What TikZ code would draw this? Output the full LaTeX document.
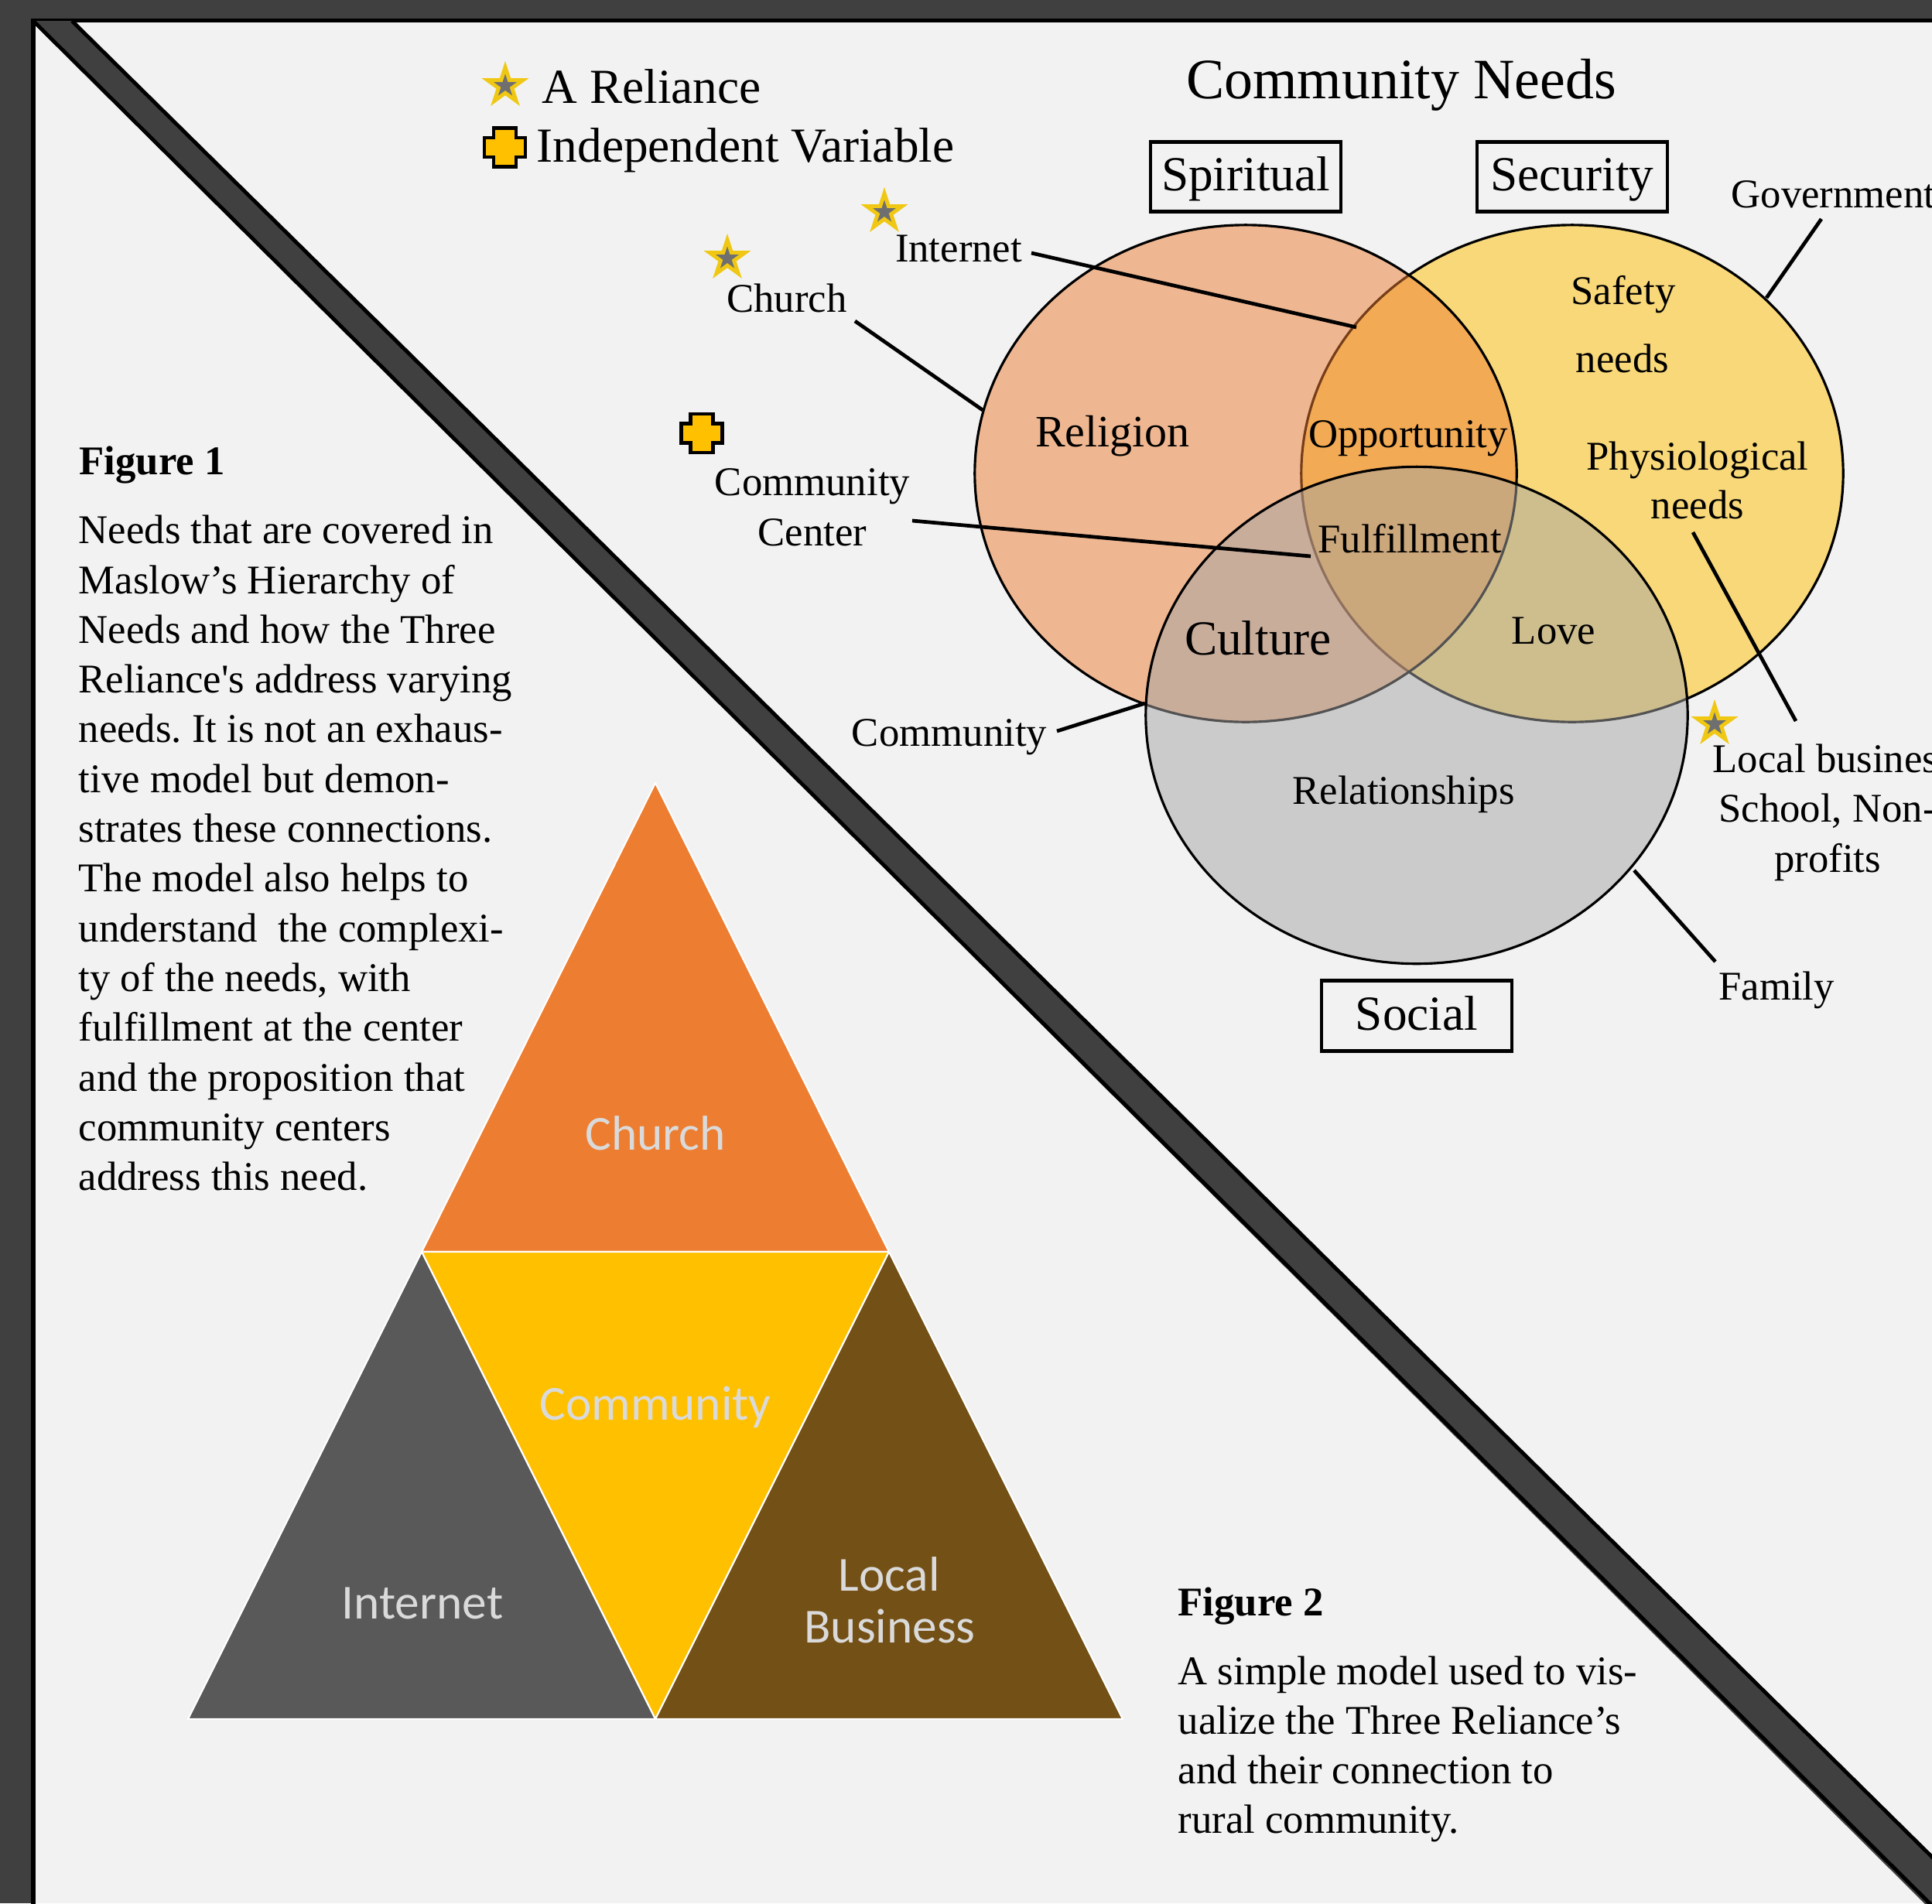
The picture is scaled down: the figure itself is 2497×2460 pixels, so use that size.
\documentclass[tikz,border=0pt]{standalone}
\usepackage{fontspec}
\setmainfont{Liberation Serif}
\newfontfamily\calibri{Carlito}
\usetikzlibrary{shapes.geometric}
\frenchspacing
\definecolor{bg}{HTML}{F2F2F2}
\definecolor{framegray}{HTML}{404040}
\definecolor{relyellow}{HTML}{F0C814}
\definecolor{stargray}{HTML}{6F6F6F}
\definecolor{ivyellow}{HTML}{FFC000}
\definecolor{vorange}{HTML}{ED7D31}
\definecolor{vgold}{HTML}{FFC000}
\definecolor{vgray}{HTML}{A5A5A5}
\definecolor{tchurch}{HTML}{ED7D31}
\definecolor{tcomm}{HTML}{FFC000}
\definecolor{tnet}{HTML}{595959}
\definecolor{tbiz}{HTML}{735016}
\definecolor{tlabel}{HTML}{DADADA}
\begin{document}
\frenchspacing
\begin{tikzpicture}[x=0.01cm,y=-0.01cm,
  txt/.style={inner sep=0pt, anchor=base, font=\fontsize{15}{18}\selectfont},
  conn/.style={line width=1.35pt},
  venn/.style={ellipse, minimum width=7cm, minimum height=6.42cm, inner sep=0pt, draw=black, line width=0.9pt, fill opacity=0.5},
  catbox/.style={draw=black, line width=1.3pt, minimum width=2.455cm, minimum height=0.905cm, inner sep=0pt, font=\fontsize{18}{20}\selectfont, text height=14pt, text depth=3.5pt},
  relstar/.style={star, star points=5, star point ratio=2.618, inner sep=0pt, minimum size=0.64cm, fill=relyellow},
  relcore/.style={star, star points=5, star point ratio=2.618, inner sep=0pt, minimum size=0.31cm, fill=stargray},
  tri/.style={draw=white, line width=0.6pt, line join=round},
  trilbl/.style={inner sep=0pt, anchor=base, font=\calibri\fontsize{18}{20}\selectfont, text=tlabel},
  ivcross/.pic={\draw[fill=ivyellow, line width=1.4pt, line join=miter]
     (-14.5,-25) -- (14.5,-25) -- (14.5,-12.5) -- (26.5,-12.5) -- (26.5,12.5) -- (14.5,12.5)
     -- (14.5,25) -- (-14.5,25) -- (-14.5,12.5) -- (-26.5,12.5) -- (-26.5,-12.5) -- (-14.5,-12.5) -- cycle;}
]
\useasboundingbox (0,0) rectangle (2497,2460);
\fill[bg] (0,0) rectangle (2497,2460);
% frame
\fill[framegray] (0,0) rectangle (2497,26);
\fill[framegray] (0,0) rectangle (43,2460);
\draw[line width=1.6pt] (43,2470) -- (43,26.5) -- (2510,26.5);
% diagonal band
\fill[framegray] (43,27) -- (93,27) -- (2497,2400) -- (2497,2470) -- cycle;
\draw[line width=1.4pt] (93,27) -- (2510,2413);
\draw[line width=1.4pt] (43,27) -- (2510,2476);

% legend
\node[relstar] (lstar) at (653,111) {};
\node[relcore] at (lstar) {};
\node[inner sep=0pt, anchor=base west, font=\fontsize{18}{20}\selectfont] (lrel) at (700,133) {A Reliance};
\pic at (652.5,190.5) {ivcross};
\node[inner sep=0pt, anchor=base west, font=\fontsize{18}{20}\selectfont] (lind) at (693,209) {Independent Variable};

% title and category boxes
\node[inner sep=0pt, anchor=base, font=\fontsize{21}{24}\selectfont] (title) at (1811,127) {Community Needs};
\node[catbox] (bspirit) at (1610,228.5) {Spiritual};
\node[catbox] (bsecur) at (2032,228.5) {Security};
\node[catbox] (bsocial) at (1831,1313) {Social};

% Venn
\node[venn, fill=vgold] (eSecur) at (2032,612) {};
\node[venn, fill=vorange] (eSpirit) at (1610,612) {};
\node[venn, fill=vgray] (eSocial) at (1831,924.5) {};

\node[txt, font=\fontsize{16.5}{18}\selectfont] (religion) at (1438,577) {Religion};
\node[txt] (opport) at (1820,578) {Opportunity};
\node[txt] (safety) at (2098,393) {Safety};
\node[txt] (safety2) at (2097,481) {needs};
\node[txt] (physio) at (2194,607) {Physiological};
\node[txt] (physio2) at (2194,670) {needs};
\node[txt] (fulfil) at (1822,714) {Fulfillment};
\node[txt, font=\fontsize{18}{20}\selectfont] (culture) at (1626,846) {Culture};
\node[txt] (love) at (2008,832) {Love};
\node[txt] (relat) at (1814,1039) {Relationships};

% external labels
\node[relstar] (schurch) at (940,334) {};
\node[relcore] at (schurch) {};
\node[txt] (church) at (1017,403) {Church};
\node[relstar] (snet) at (1143,274) {};
\node[relcore] at (snet) {};
\node[txt] (internet) at (1239,338) {Internet};
\pic at (907,560) {ivcross};
\node[txt] (cc1) at (1050,640) {Community};
\node[txt] (cc2) at (1050,705) {Center};
\node[txt] (commlbl) at (1227,964) {Community};
\node[txt, anchor=base west] (gov) at (2237,268) {Government};
\node[relstar] (sbiz) at (2216,936) {};
\node[relcore] at (sbiz) {};
\node[txt, anchor=base west] (biz1) at (2213,998) {Local business,};
\node[txt] (biz2) at (2362,1062) {School, Non-};
\node[txt] (biz3) at (2362,1127) {profits};
\node[txt] (family) at (2296,1292) {Family};

% connectors
\coordinate (chA) at (1105,415);  \coordinate (chB) at (1270,530);
\coordinate (inA) at (1333,327);  \coordinate (inB) at (1753,423);
\coordinate (ccA) at (1179,673);  \coordinate (ccB) at (1694,719);
\coordinate (coA) at (1366,945);  \coordinate (coB) at (1480,909);
\coordinate (goA) at (2354,283);  \coordinate (goB) at (2283,385);
\coordinate (phA) at (2188,688);  \coordinate (phB) at (2321,932);
\coordinate (faA) at (2112,1125); \coordinate (faB) at (2217,1243);
\draw[conn] (chA) -- (chB);
\draw[conn] (inA) -- (inB);
\draw[conn] (ccA) -- (ccB);
\draw[conn] (coA) -- (coB);
\draw[conn] (goA) -- (goB);
\draw[conn] (phA) -- (phB);
\draw[conn] (faA) -- (faB);

% Figure 1 text
\node[inner sep=0pt, anchor=base west, font=\bfseries\fontsize{15}{18}\selectfont] (fig1) at (102,613) {Figure 1};
\foreach \t [count=\i from 0] in {Needs that are covered in, Maslow’s Hierarchy of, Needs and how the Three,
  Reliance\textquotesingle s address varying, needs. It is not an exhaus-, tive model but demon-,
  strates these connections., The model also helps to, understand\ \ the complexi-,
  {ty of the needs, with}, fulfillment at the center, and the proposition that,
  community centers, address this need.}
  \node[txt, anchor=base west] (fa\i) at (101,{702.7+64.3*\i}) {\t};

% Figure 2 text
\node[inner sep=0pt, anchor=base west, font=\bfseries\fontsize{15}{18}\selectfont] (fig2) at (1522,2088) {Figure 2};
\foreach \t [count=\i from 0] in {A simple model used to vis-, ualize the Three Reliance’s,
  and their connection to, rural community.}
  \node[txt, anchor=base west] (fb\i) at (1522,{2177+64.3*\i}) {\t};

% triangles
\filldraw[tri, fill=tchurch] (847,1012) -- (545,1618) -- (1149,1618) -- cycle;
\filldraw[tri, fill=tcomm] (545,1618) -- (1149,1618) -- (847,2222) -- cycle;
\filldraw[tri, fill=tnet] (545,1618) -- (243,2222) -- (847,2222) -- cycle;
\filldraw[tri, fill=tbiz] (1149,1618) -- (847,2222) -- (1451,2222) -- cycle;
\node[trilbl] (tl1) at (847,1486) {Church};
\node[trilbl] (tl2) at (847,1835) {Community};
\node[trilbl] (tl3) at (546,2092) {Internet};
\node[trilbl] (tl4) at (1149,2056) {Local};
\node[trilbl] (tl5) at (1150,2123) {Business};
\end{tikzpicture}
\end{document}
